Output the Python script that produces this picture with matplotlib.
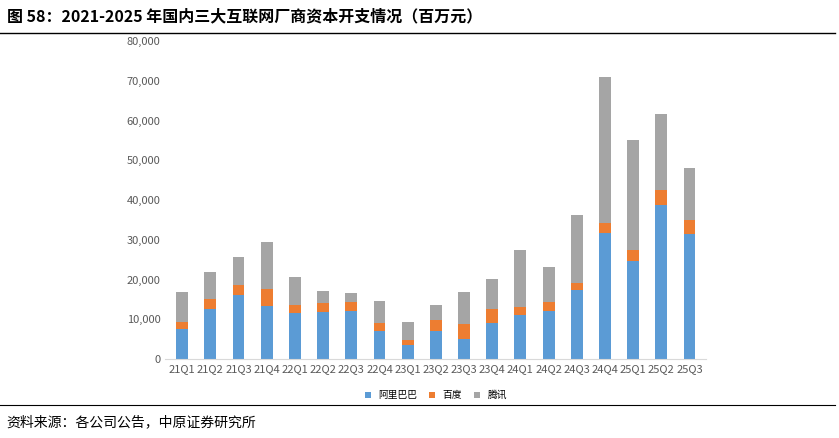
import matplotlib.pyplot as plt
import numpy as np

plt.rcParams['font.family'] = ['Noto Sans CJK SC', 'DejaVu Sans']

quarters = ["21Q1", "21Q2", "21Q3", "21Q4", "22Q1", "22Q2", "22Q3", "22Q4",
            "23Q1", "23Q2", "23Q3", "23Q4", "24Q1", "24Q2", "24Q3", "24Q4",
            "25Q1", "25Q2", "25Q3"]
alibaba = [7.5, 12.6, 16.1, 13.3, 11.6, 11.8, 12.1, 7.0, 3.5, 7.0, 5.0, 9.1,
           11.1, 12.1, 17.4, 31.7, 24.7, 38.7, 31.4]
alibaba_baidu = [9.3, 15.1, 18.6, 17.6, 13.6, 14.1, 14.3, 9.1, 4.8, 9.8, 8.8, 12.6,
                 13.1, 14.3, 19.1, 34.2, 27.4, 42.5, 35.0]
total = [16.9, 21.9, 25.7, 29.4, 20.6, 17.1, 16.6, 14.6, 9.3, 13.6, 16.9, 20.1,
         27.4, 23.1, 36.2, 70.9, 55.1, 61.6, 48.0]

ali = np.array(alibaba) * 1000
baidu = (np.array(alibaba_baidu) - np.array(alibaba)) * 1000
tencent = (np.array(total) - np.array(alibaba_baidu)) * 1000

fig = plt.figure(figsize=(8.39, 4.38), dpi=100)
ax = fig.add_axes([0.197, 0.18, 0.645, 0.726])
x = np.arange(len(quarters))
w = 0.42
ax.bar(x, ali, w, color="#5b9bd5", label="阿里巴巴")
ax.bar(x, baidu, w, bottom=ali, color="#ed7d31", label="百度")
ax.bar(x, tencent, w, bottom=ali + baidu, color="#a5a5a5", label="腾讯")
ax.set_ylim(0, 80000)
ax.set_xlim(-0.6, len(quarters) - 0.4)
ax.set_yticks(range(0, 80001, 10000))
ax.set_yticklabels([f"{v:,}" for v in range(0, 80001, 10000)], fontsize=8, color="#595959")
ax.set_xticks(x)
ax.set_xticklabels(quarters, fontsize=8, color="#595959")
for s in ["top", "right", "left"]:
    ax.spines[s].set_visible(False)
ax.spines["bottom"].set_color("#d9d9d9")
ax.tick_params(length=0)
ax.legend(loc="upper center", bbox_to_anchor=(0.5, -0.07), ncol=3, frameon=False,
          fontsize=7, handlelength=0.6, handleheight=0.6, columnspacing=1.2)

fig.text(0.008, 0.962, "图 58：2021-2025 年国内三大互联网厂商资本开支情况（百万元）",
         fontsize=11.5, fontweight="bold", va="center")
fig.add_artist(plt.Line2D([0.0, 0.995], [0.925, 0.925], color="black", lw=1))
fig.add_artist(plt.Line2D([0.0, 0.995], [0.075, 0.075], color="black", lw=0.8))
fig.text(0.008, 0.035, "资料来源：各公司公告，中原证券研究所", fontsize=10, va="center")

fig.savefig("out.png", dpi=100)
